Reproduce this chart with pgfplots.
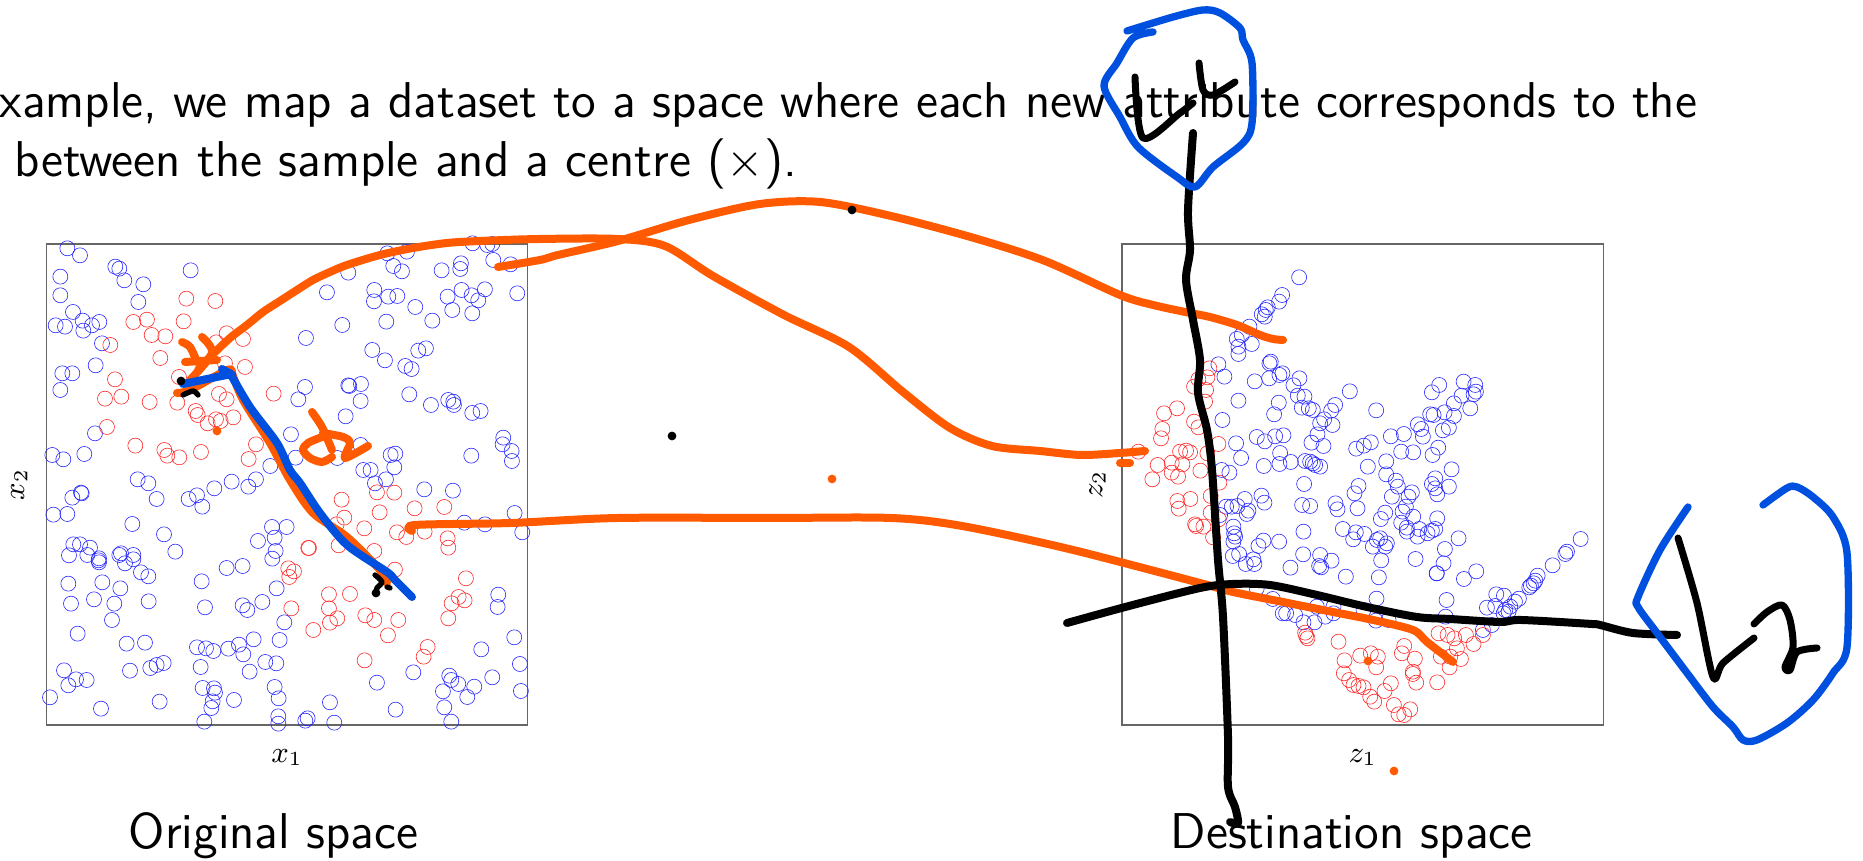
\documentclass[border=0pt]{standalone}
\usepackage{pgfplots}
\usepackage{pgfplotstable}
\pgfplotsset{compat=1.18}
\definecolor{inkorange}{HTML}{FF5A00}
\definecolor{inkblue}{HTML}{0050E0}

% points read from 3x crops, so x = col0/3 + crop x, y = col1/3 + crop y
\pgfplotstableread[header=false,row sep=\\]{
112 55\\150 76\\256 110\\268 116\\283 151\\340 163\\482 121\\91 140\\91 196\\325 216\\129 246\\77 286\\105 290\\158 272\\160 302\\186 286\\208 276\\216 340\\197 406\\97 430\\127 430\\91 480\\195 610\\67 675\\100 688\\163 672\\323 748\\678 748\\721 708\\
}\tabLeftABlue
\pgfplotstableread[header=false,row sep=\\]{
469 206\\556 213\\310 276\\351 269\\461 274\\365 315\\406 319\\590 310\\559 337\\639 327\\241 345\\391 384\\585 400\\645 411\\447 441\\255 448\\225 506\\274 500\\359 516\\442 518\\567 492\\590 508\\731 491\\497 543\\503 555\\533 580\\558 568\\572 573\\610 562\\231 591\\316 647\\403 660\\412 677\\448 682\\513 666\\678 643\\656 687\\
}\tabLeftARed
\pgfplotstableread[header=false,row sep=\\]{
322 70\\381 65\\578 40\\622 45\\637 42\\640 90\\692 103\\205 128\\340 108\\366 124\\485 121\\543 100\\541 117\\141 187\\283 180\\282 214\\325 200\\352 198\\406 231\\503 200\\545 180\\575 196\\615 178\\595 211\\712 190\\517 240\\577 250\\187 285\\319 275\\457 272\\78 324\\277 360\\315 391\\415 362\\438 355\\376 408\\395 417\\75 471\\55 508\\205 466\\208 468\\243 462\\242 513\\388 493\\453 525\\505 510\\520 515\\522 525\\577 549\\602 543\\197 559\\33 613\\242 645\\670 623\\668 643\\695 663\\696 693\\574 677\\47 683\\172 684\\332 675\\346 671\\343 712\\250 720\\272 720\\318 748\\
}\tabLeftBBlue
\pgfplotstableread[header=false,row sep=\\]{
355 10\\605 5\\655 20\\553 25\\127 53\\153 38\\155 40\\380 57\\476 57\\501 46\\517 80\\70 104\\112 102\\307 132\\402 163\\726 141\\684 183\\734 173\\130 193\\150 193\\180 203\\117 226\\172 225\\207 235\\207 247\\206 241\\268 225\\273 220\\285 250\\310 225\\310 238\\333 277\\355 289\\436 215\\737 213\\727 236\\590 264\\638 258\\115 311\\217 307\\271 325\\515 304\\740 325\\123 371\\192 358\\253 371\\356 364\\525 382\\638 376\\652 390\\697 366\\246 420\\143 461\\290 491\\345 488\\501 502\\528 505\\550 513\\595 506\\627 494\\640 523\\671 478\\749 480\\300 572\\361 564\\380 555\\401 549\\512 561\\102 571\\138 598\\170 600\\115 616\\659 575\\706 546\\739 550\\518 624\\552 625\\555 638\\548 664\\544 684\\612 660\\734 621\\746 655\\60 652\\389 665\\213 686\\523 725\\745 709\\745 731\\
}\tabLeftCBlue
\pgfplotstableread[header=false,row sep=\\]{
285 10\\433 28\\519 32\\20 141\\553 128\\615 133\\704 99\\727 157\\655 344\\653 381\\13 427\\703 472\\604 508\\720 552\\400 577\\291 608\\508 587\\514 600\\535 612\\489 634\\583 620\\562 651\\637 592\\723 633\\150 667\\347 689\\493 682\\76 722\\83 715\\163 728\\514 725\\
}\tabLeftDBlue
\pgfplotstableread[header=false,row sep=\\]{
185 59\\291 37\\343 38\\299 97\\404 85\\493 81\\193 113\\170 133\\253 145\\351 157\\379 171\\434 155\\503 175\\505 203\\85 204\\87 204\\176 196\\283 213\\345 269\\25 265\\42 274\\28 291\\558 295\\147 343\\210 342\\536 351\\554 361\\515 370\\34 385\\147 385\\172 415\\150 428\\256 406\\283 420\\355 420\\505 415\\100 450\\324 466\\443 501\\431 530\\254 541\\
}\tabLeftDRed

\pgfplotstableread[header=false,row sep=\\]{
537 -8\\486 45\\477 65\\443 82\\437 90\\425 103\\434 110\\388 140\\350 177\\365 165\\395 192\\355 200\\355 222\\295 253\\313 290\\452 245\\448 250\\404 304\\447 295\\478 285\\487 280\\538 295\\520 316\\533 347\\553 350\\355 362\\476 368\\462 403\\545 383\\566 385\\578 390\\645 375\\633 392\\307 420\\612 418\\600 430\\637 435\\592 463\\410 471\\434 484\\465 469\\490 466\\574 488\\610 498\\348 490\\480 519\\363 534\\431 558\\478 552\\512 546\\555 543\\570 545\\578 550\\585 555\\600 560\\305 570\\328 578\\552 612\\
}\tabRightABlue
\pgfplotstableread[header=false,row sep=\\]{
268 265\\235 298\\262 292\\222 320\\258 330\\255 365\\171 385\\132 400\\222 425\\235 442\\127 447\\123 475\\295 492\\55 515\\262 520\\180 515\\198 512\\210 517\\113 555\\155 548\\187 553\\155 578\\174 590\\97 598\\241 572\\298 608\\
}\tabRightARed
\pgfplotstableread[header=false,row sep=\\]{
29 94\\108 151\\275 97\\297 75\\370 65\\405 75\\407 95\\400 103\\364 107\\341 130\\390 145\\313 157\\270 163\\280 165\\341 168\\233 193\\243 207\\248 230\\308 211\\326 203\\152 229\\191 222\\92 247\\71 257\\48 266\\294 263\\277 285\\183 275\\219 277\\83 320\\138 304\\138 343\\334 328\\167 362\\173 380\\275 372\\285 355\\285 385\\291 403\\326 380\\55 378\\43 400\\215 397\\205 410\\155 410\\52 445\\197 440\\187 455\\219 470\\135 458\\122 477\\291 475\\183 488\\200 503\\200 515\\237 507\\232 530\\262 520\\275 512\\285 507\\8 507\\47 517\\73 522\\39 538\\355 535\\120 535\\110 540\\98 560\\140 550\\135 560\\314 567\\123 601\\226 597\\310 610\\289 640\\290 640\\408 634\\371 657\\17 650\\116 652\\592 647\\585 662\\637 616\\675 582\\680 575\\721 537\\580 670\\572 677\\567 682\\468 703\\491 707\\536 716\\524 725\\510 740\\440 743\\465 738\\495 750\\109 716\\319 720\\505 755\\490 760\\316 770\\
}\tabRightBBlue
\pgfplotstableread[header=false,row sep=\\]{
170 85\\218 117\\248 160\\258 160\\285 165\\310 187\\343 187\\375 170\\400 160\\350 140\\400 140\\490 150\\527 182\\565 180\\848 210\\875 195\\
}\tabRightCBlue
\pgfplotstableread[header=false,row sep=\\]{
315 218\\322 235\\318 228\\415 245\\433 301\\480 287\\512 280\\533 290\\528 322\\431 340\\447 360\\460 375\\475 378\\490 382\\510 410\\522 425\\553 393\\572 370\\581 435\\595 463\\612 465\\630 448\\605 280\\612 258\\644 296\\638 335\\638 342\\648 368\\711 367\\715 220\\742 225\\762 235\\797 225\\820 252\\848 225\\770 265\\782 297\\722 290\\748 322\\750 290\\
}\tabRightCRed
\pgfplotstableread[header=false,row sep=\\]{
318 50\\335 50\\352 48\\374 27\\385 62\\380 72\\424 17\\433 38\\300 75\\340 110\\342 130\\345 140\\340 155\\430 152\\415 168\\477 155\\338 198\\357 192\\377 222\\400 208\\403 222\\511 233\\546 45\\570 48\\646 40\\652 58\\550 125\\549 193\\600 195\\634 212\\597 228\\603 232\\
}\tabRightDBlue
\pgfplotstableread[header=false,row sep=\\]{
172 33\\176 56\\211 27\\272 18\\272 68\\296 88\\225 103\\250 110\\279 142\\228 108\\
}\tabRightDRed

\pgfplotsset{
  space axis/.style={
    scale only axis, width=144.4pt, height=144.3pt,
    y dir=reverse, clip=false, xtick=\empty, ytick=\empty,
    ymin=244, ymax=725,
    axis line style={draw=black!60, line width=0.35pt},
  },
  pts blue/.style={only marks, mark=o, mark size=2.25pt, mark options={draw=blue!85, line width=0.18pt}},
  pts red/.style={only marks, mark=o, mark size=2.25pt, mark options={draw=red!85, line width=0.18pt}},
  ink/.style={mark=none, smooth, line cap=round, line join=round, line width=#1},
  ink/.default=2.4pt,
}

\begin{document}
\begin{tikzpicture}
\path[use as bounding box] (0,0) rectangle (558.9pt,258.3pt);

\begin{scope}[x=0.3pt,y=0.3pt,every node/.style={inner sep=0pt,anchor=base west,font=\sffamily\fontsize{15.1}{18}\selectfont}]
\node at (-1,743) {xample, we map a dataset to a space where each new attribute corresponds to the};
\node at (14,684) {between the sample and a centre ($\times$).};
\node at (128,12) {Original space};
\node at (1170,12) {Destination space};
\end{scope}

\begin{axis}[space axis, at={(13.89pt,40.8pt)}, anchor=south west,
  xmin=46.3, xmax=527.7,
  xlabel={$x_1$}, ylabel={$x_2$},
  every axis x label/.style={at={(axis description cs:0.5,-0.078)},anchor=base,font=\fontsize{9.2}{11}\selectfont},
  every axis y label/.style={at={(axis description cs:-0.046,0.5)},rotate=90,anchor=base,font=\fontsize{9.2}{11}\selectfont},
]
\addplot[pts blue] table[x expr=\thisrowno{0}/3+30,y expr=\thisrowno{1}/3+230] {\tabLeftABlue};
\addplot[pts blue] table[x expr=\thisrowno{0}/3+280,y expr=\thisrowno{1}/3+230] {\tabLeftBBlue};
\addplot[pts blue] table[x expr=\thisrowno{0}/3+30,y expr=\thisrowno{1}/3+480] {\tabLeftCBlue};
\addplot[pts blue] table[x expr=\thisrowno{0}/3+280,y expr=\thisrowno{1}/3+480] {\tabLeftDBlue};
\addplot[pts red] table[x expr=\thisrowno{0}/3+30,y expr=\thisrowno{1}/3+230] {\tabLeftARed};
\addplot[pts red] table[x expr=\thisrowno{0}/3+280,y expr=\thisrowno{1}/3+480] {\tabLeftDRed};
\end{axis}

\begin{axis}[space axis, at={(336.6pt,40.8pt)}, anchor=south west,
  xmin=1122, xmax=1603,
  xlabel={$z_1$}, ylabel={$z_2$},
  every axis x label/.style={at={(axis description cs:0.5,-0.078)},anchor=base,font=\fontsize{9.2}{11}\selectfont},
  every axis y label/.style={at={(axis description cs:-0.041,0.5)},rotate=90,anchor=base,font=\fontsize{9.2}{11}\selectfont},
]
\addplot[pts blue] table[x expr=\thisrowno{0}/3+1120,y expr=\thisrowno{1}/3+280] {\tabRightABlue};
\addplot[pts blue] table[x expr=\thisrowno{0}/3+1340,y expr=\thisrowno{1}/3+360] {\tabRightBBlue};
\addplot[pts blue] table[x expr=\thisrowno{0}/3+1200,y expr=\thisrowno{1}/3+560] {\tabRightCBlue};
\addplot[pts blue] table[x expr=\thisrowno{0}/3+1120,y expr=\thisrowno{1}/3+490] {\tabRightDBlue};
\addplot[pts red] table[x expr=\thisrowno{0}/3+1120,y expr=\thisrowno{1}/3+280] {\tabRightARed};
\addplot[pts red] table[x expr=\thisrowno{0}/3+1200,y expr=\thisrowno{1}/3+560] {\tabRightCRed};
\addplot[pts red] table[x expr=\thisrowno{0}/3+1120,y expr=\thisrowno{1}/3+490] {\tabRightDRed};
\end{axis}

% pen annotations, in image pixels
\begin{axis}[at={(0pt,0pt)}, anchor=south west, scale only axis, width=558.9pt, height=258.3pt,
  hide axis, clip=false, y dir=reverse, xmin=0, xmax=1863, ymin=0, ymax=861]
% orange arcs
\addplot[ink,inkorange] coordinates {(198,370) (210,357) (230,338) (247,325) (263,312) (280,301) (297,290) (313,280) (330,272) (347,265) (380,255) (413,248) (447,243) (480,241) (540,239) (618,239) (665,246) (713,276) (784,315) (849,347) (903,392) (950,428) (992,446) (1040,451) (1081,455) (1120,453) (1145,451)};
\addplot[ink,inkorange] coordinates {(1120,463) (1130,463)};
\addplot[ink,inkorange] coordinates {(498,267) (540,260) (558,255) (618,241) (689,220) (760,204) (820,202) (891,216) (974,238) (1045,261) (1120,295) (1153,305) (1190,313) (1210,317) (1237,325) (1260,335) (1273,339) (1283,340)};
\addplot[ink,inkorange] coordinates {(412,531) (415,525) (511,523) (618,518) (772,518) (891,518) (962,526) (1069,549) (1200,583) (1233,592) (1283,602) (1333,612) (1373,620) (1413,630) (1427,642) (1453,662)};
% orange scribble around the left centre
\addplot[ink,inkorange] coordinates {(177,393) (190,390) (227,370) (232,372)};
\addplot[ink,inkorange] coordinates {(182,342) (190,347) (197,362)};
\addplot[ink,inkorange] coordinates {(185,362) (217,360)};
\addplot[ink,inkorange] coordinates {(202,337) (212,353) (190,380)};
\addplot[ink,inkorange] coordinates {(232,373) (243,400) (270,443) (290,480) (313,513) (347,537) (380,570) (387,583)};
% d2 scribble
\addplot[ink,inkorange] coordinates {(312,412) (322,427) (332,450)};
\addplot[ink,inkorange] coordinates {(322,437) (308,443) (303,450) (310,458) (322,462) (332,457)};
\addplot[ink,inkorange] coordinates {(323,433) (343,437) (350,443) (345,458) (368,446)};
% black marks
\addplot[ink=1.6pt,black] coordinates {(183,395) (193,391) (198,395)};
\addplot[ink=1.6pt,black] coordinates {(375,575) (382,582) (377,588) (376,593)};
\addplot[ink=1.6pt,black] coordinates {(387,587) (390,588)};
% blue pen
\addplot[ink,inkblue] coordinates {(183,384) (227,375) (232,375) (222,369)};
\addplot[ink,inkblue] coordinates {(230,373) (250,407) (277,443) (290,470) (300,483) (320,513) (347,545) (387,572) (395,580) (412,597)};
% black cross lines
\addplot[ink,black] coordinates {(1193,133) (1188,210) (1190,250) (1186,280) (1193,320) (1200,360) (1198,393) (1207,430) (1212,470) (1218,560) (1223,617) (1228,737) (1228,787) (1235,807) (1238,823) (1230,822)};
\addplot[ink,black] coordinates {(1067,623) (1129,606) (1200,588) (1233,584) (1270,585) (1317,595) (1367,607) (1417,617) (1450,619) (1500,622) (1521,620) (1592,624) (1600,625) (1633,633) (1677,635)};
% L1
\addplot[ink=2.1pt,black] coordinates {(1135,77) (1143,138) (1180,113) (1193,103)};
\addplot[ink=2.1pt,black] coordinates {(1199,63) (1203,90) (1213,95) (1235,82)};
\addplot[ink=2.2pt,inkblue] coordinates {(1127,31) (1173,17) (1203,10) (1220,13) (1240,28) (1243,40) (1252,63) (1252,123) (1243,143) (1213,167) (1195,187) (1177,177) (1138,147) (1120,117) (1104,86) (1117,63) (1133,38) (1153,32)};
% L2
\addplot[ink=2.1pt,black] coordinates {(1678,538) (1697,603) (1713,677) (1723,663) (1754,638)};
\addplot[ink=2.1pt,black] coordinates {(1754,624) (1767,612) (1782,605) (1790,620) (1793,647) (1785,667) (1790,670) (1797,652) (1817,648)};
\addplot[ink=2.2pt,inkblue] coordinates {(1688,507) (1660,550) (1638,597) (1638,607) (1657,633) (1687,673) (1713,707) (1733,727) (1743,740) (1757,740) (1787,723) (1813,700) (1833,673) (1847,647) (1847,553) (1833,517) (1813,497) (1797,487) (1787,488) (1763,505)};
% pen dots
\addplot[only marks,mark=*,mark size=1.1pt,mark options={draw=black,fill=black}] coordinates {(181,381) (376,593) (852,210) (672,436)};
\addplot[only marks,mark=*,mark size=1.1pt,mark options={draw=inkorange,fill=inkorange}] coordinates {(217,431) (832,479) (1368,661) (1394,771)};
\end{axis}
\end{tikzpicture}
\end{document}
